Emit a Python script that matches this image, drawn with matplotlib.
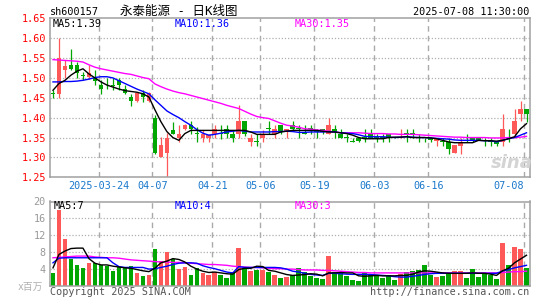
import matplotlib
matplotlib.use("Agg")
import matplotlib.pyplot as plt
import numpy as np

# ---- data (80 trading days, 2025-03-12 .. 2025-07-08) ----
opens = [1.46, 1.46, 1.52, 1.532, 1.532, 1.505, 1.502, 1.50, 1.481, 1.481,
         1.48, 1.494, 1.471, 1.452, 1.442, 1.462, 1.442, 1.40, 1.30, 1.31,
         1.37, 1.35, 1.371, 1.381, 1.36, 1.35, 1.35, 1.36, 1.36, 1.371,
         1.36, 1.36, 1.392, 1.339, 1.339, 1.35, 1.371, 1.36, 1.381, 1.364,
         1.381, 1.371, 1.364, 1.371, 1.365, 1.371, 1.36, 1.371, 1.36, 1.35,
         1.339, 1.35, 1.35, 1.36, 1.35, 1.35, 1.36, 1.35, 1.356, 1.36,
         1.36, 1.35, 1.35, 1.35, 1.341, 1.339, 1.339, 1.311, 1.33, 1.35,
         1.35, 1.35, 1.35, 1.339, 1.339, 1.339, 1.35, 1.36, 1.41, 1.421]
highs = [1.47, 1.60, 1.545, 1.572, 1.54, 1.515, 1.532, 1.521, 1.494, 1.501,
         1.50, 1.50, 1.481, 1.46, 1.465, 1.469, 1.465, 1.406, 1.351, 1.361,
         1.39, 1.381, 1.385, 1.392, 1.377, 1.37, 1.36, 1.381, 1.381, 1.381,
         1.37, 1.431, 1.392, 1.36, 1.36, 1.37, 1.392, 1.381, 1.381, 1.371,
         1.392, 1.381, 1.381, 1.381, 1.371, 1.371, 1.40, 1.381, 1.371, 1.36,
         1.35, 1.35, 1.371, 1.371, 1.36, 1.36, 1.36, 1.352, 1.371, 1.371,
         1.371, 1.36, 1.35, 1.35, 1.347, 1.35, 1.35, 1.332, 1.35, 1.36,
         1.35, 1.35, 1.35, 1.35, 1.339, 1.41, 1.371, 1.421, 1.442, 1.421]
lows = [1.45, 1.45, 1.50, 1.519, 1.50, 1.495, 1.498, 1.481, 1.46, 1.471,
        1.47, 1.47, 1.46, 1.429, 1.44, 1.44, 1.44, 1.308, 1.30, 1.25,
        1.36, 1.339, 1.37, 1.36, 1.339, 1.339, 1.34, 1.35, 1.347, 1.35,
        1.339, 1.35, 1.355, 1.328, 1.328, 1.339, 1.36, 1.35, 1.36, 1.35,
        1.37, 1.35, 1.36, 1.36, 1.35, 1.36, 1.36, 1.35, 1.35, 1.339,
        1.339, 1.339, 1.339, 1.35, 1.339, 1.339, 1.339, 1.348, 1.35, 1.339,
        1.35, 1.339, 1.339, 1.339, 1.328, 1.328, 1.308, 1.31, 1.308, 1.339,
        1.339, 1.343, 1.328, 1.328, 1.33, 1.328, 1.339, 1.35, 1.392, 1.389]
closes = [1.46, 1.55, 1.53, 1.522, 1.512, 1.505, 1.512, 1.492, 1.472, 1.481,
          1.48, 1.481, 1.462, 1.442, 1.462, 1.452, 1.462, 1.31, 1.33, 1.35,
          1.36, 1.36, 1.381, 1.371, 1.36, 1.36, 1.356, 1.371, 1.36, 1.36,
          1.35, 1.392, 1.36, 1.35, 1.339, 1.36, 1.371, 1.371, 1.364, 1.371,
          1.371, 1.371, 1.36, 1.371, 1.365, 1.364, 1.381, 1.364, 1.35, 1.35,
          1.339, 1.341, 1.35, 1.35, 1.35, 1.35, 1.35, 1.35, 1.36, 1.36,
          1.36, 1.35, 1.35, 1.345, 1.347, 1.339, 1.32, 1.33, 1.339, 1.35,
          1.343, 1.343, 1.35, 1.339, 1.335, 1.371, 1.35, 1.392, 1.421, 1.41]

ma5 = [1.469, 1.486, 1.494, 1.507, 1.517, 1.523, 1.51, 1.50, 1.49, 1.482,
       1.477, 1.472, 1.468, 1.466, 1.464, 1.46, 1.452, 1.42, 1.39, 1.365,
       1.35, 1.343, 1.36, 1.368, 1.368, 1.368, 1.368, 1.368, 1.368, 1.368,
       1.368, 1.368, 1.368, 1.364, 1.358, 1.358, 1.358, 1.358, 1.364, 1.366,
       1.368, 1.368, 1.368, 1.368, 1.368, 1.366, 1.364, 1.364, 1.362, 1.36,
       1.356, 1.35, 1.347, 1.347, 1.347, 1.347, 1.35, 1.351, 1.351, 1.352,
       1.35, 1.35, 1.35, 1.349, 1.347, 1.343, 1.339, 1.337, 1.337, 1.337,
       1.337, 1.343, 1.342, 1.342, 1.341, 1.343, 1.347, 1.352, 1.372, 1.385]
ma10 = [1.49, 1.49, 1.491, 1.491, 1.492, 1.494, 1.497, 1.501, 1.503, 1.503,
        1.50, 1.493, 1.486, 1.479, 1.472, 1.466, 1.46, 1.445, 1.431, 1.417,
        1.408, 1.40, 1.39, 1.381, 1.37, 1.361, 1.356, 1.358, 1.361, 1.364,
        1.366, 1.368, 1.366, 1.364, 1.364, 1.364, 1.364, 1.365, 1.365, 1.366,
        1.365, 1.363, 1.363, 1.364, 1.364, 1.364, 1.365, 1.364, 1.362, 1.361,
        1.36, 1.357, 1.353, 1.352, 1.352, 1.352, 1.351, 1.35, 1.351, 1.352,
        1.351, 1.35, 1.35, 1.349, 1.348, 1.347, 1.346, 1.344, 1.343, 1.343,
        1.343, 1.343, 1.342, 1.342, 1.339, 1.343, 1.347, 1.35, 1.356, 1.362]
ma30 = [1.546, 1.545, 1.544, 1.543, 1.542, 1.54, 1.533, 1.527, 1.523, 1.52,
        1.517, 1.514, 1.511, 1.509, 1.505, 1.501, 1.498, 1.485, 1.478, 1.472,
        1.467, 1.463, 1.46, 1.456, 1.452, 1.448, 1.444, 1.44, 1.436, 1.431,
        1.427, 1.423, 1.416, 1.409, 1.403, 1.40, 1.398, 1.392, 1.386, 1.381,
        1.379, 1.376, 1.372, 1.371, 1.369, 1.368, 1.366, 1.364, 1.362, 1.362,
        1.362, 1.362, 1.361, 1.36, 1.36, 1.36, 1.359, 1.359, 1.358, 1.358,
        1.358, 1.357, 1.356, 1.355, 1.354, 1.353, 1.352, 1.351, 1.351, 1.35,
        1.35, 1.35, 1.35, 1.349, 1.349, 1.349, 1.35, 1.35, 1.351, 1.353]

volume = [3.05, 18.0, 11.1, 6.4, 4.9, 4.2, 5.4, 5.3, 4.8, 4.6,
          3.45, 4.4, 4.1, 4.6, 3.05, 2.3, 2.5, 8.7, 5.8, 8.0,
          6.3, 4.0, 4.4, 2.5, 4.2, 3.0, 2.5, 3.3, 2.5, 1.9,
          3.1, 9.0, 4.2, 3.4, 3.7, 3.8, 3.2, 2.6, 1.9, 2.1,
          2.4, 4.2, 3.2, 2.3, 1.9, 1.5, 7.0, 3.3, 3.2, 2.3,
          1.3, 1.1, 3.2, 2.7, 2.2, 1.8, 2.6, 1.3, 2.8, 3.2,
          3.45, 3.7, 4.9, 2.5, 2.0, 2.3, 3.0, 3.45, 3.45, 1.9,
          4.0, 2.1, 2.9, 2.4, 1.5, 10.2, 4.9, 9.2, 8.8, 4.2]
vma5 = [4.2, 7.4, 8.2, 8.8, 8.9, 8.9, 6.4, 5.3, 4.9, 4.9,
        4.6, 4.4, 4.2, 4.1, 3.8, 3.5, 3.3, 4.1, 5.4, 5.8,
        6.4, 6.2, 5.6, 4.6, 3.9, 3.4, 3.1, 3.2, 3.0, 2.8,
        2.7, 3.8, 4.1, 4.1, 4.6, 4.5, 3.6, 3.4, 3.0, 2.6,
        2.4, 2.5, 2.6, 2.8, 2.7, 2.3, 3.0, 3.0, 3.1, 3.0,
        3.0, 2.3, 2.2, 2.3, 2.4, 2.3, 2.3, 2.3, 2.4, 2.4,
        2.7, 3.2, 3.5, 3.4, 3.2, 3.0, 2.9, 2.9, 2.9, 2.9,
        3.0, 2.9, 2.9, 2.7, 2.4, 3.5, 4.1, 5.4, 6.3, 7.2]
vma10 = [5.4, 6.5, 6.6, 6.6, 6.6, 6.6, 6.6, 6.6, 6.6, 6.6,
         5.4, 4.5, 4.3, 4.3, 4.3, 4.3, 3.9, 4.0, 4.3, 4.6,
         5.0, 5.3, 5.4, 5.4, 5.3, 4.7, 4.3, 4.0, 3.6, 3.2,
         3.0, 4.5, 4.3, 4.3, 4.3, 4.3, 4.3, 4.3, 4.2, 3.9,
         3.4, 3.2, 2.9, 2.65, 2.5, 2.4, 2.9, 2.9, 2.8, 2.7,
         2.65, 2.65, 2.65, 2.6, 2.5, 2.4, 2.3, 2.1, 2.0, 2.0,
         2.2, 2.4, 2.65, 2.8, 2.9, 2.9, 2.9, 2.9, 2.9, 2.9,
         2.9, 2.9, 2.9, 2.9, 2.9, 3.45, 3.8, 4.2, 4.5, 4.8]
vma30 = [6.6, 6.7, 6.8, 6.9, 7.0, 7.0, 7.0, 6.8, 6.7, 6.6,
         6.6, 6.5, 6.3, 6.1, 6.0, 5.9, 5.8, 5.7, 5.6, 5.6,
         5.5, 5.5, 5.4, 5.3, 5.2, 5.1, 5.0, 5.0, 4.9, 4.8,
         4.6, 4.5, 4.4, 4.3, 4.3, 4.2, 4.1, 4.0, 4.0, 3.9,
         3.9, 3.8, 3.7, 3.7, 3.7, 3.6, 3.6, 3.5, 3.4, 3.3,
         3.2, 3.1, 3.1, 3.0, 3.0, 3.0, 3.0, 3.0, 3.0, 3.0,
         3.0, 3.0, 3.0, 3.0, 3.0, 3.0, 3.0, 3.0, 3.0, 3.0,
         3.0, 3.0, 3.0, 3.0, 3.0, 3.1, 3.2, 3.3, 3.3, 3.4]

date_idx = [8, 17, 27, 35, 44, 54, 63, 79]
date_labels = ["2025-03-24", "04-07", "04-21", "05-06", "05-19", "06-03", "06-16", "07-08"]
price_ticks = [1.25, 1.30, 1.35, 1.40, 1.45, 1.50, 1.55, 1.60, 1.65]
vol_ticks = [4, 8, 12, 16, 20]

RED = "#ff5858"
GREEN = "#00a600"
MONO = ["DejaVu Sans Mono", "Noto Sans CJK SC"]
plt.rcParams["font.family"] = MONO

W, H = 545, 300
fig = plt.figure(figsize=(W / 100, H / 100), dpi=100)


def px_axes(l, t, r, b):
    return fig.add_axes([l / W, 1 - b / H, (r - l) / W, (b - t) / H])


def px_text(x, y, s, **kw):
    fig.text(x / W, 1 - y / H, s, va="center", **kw)


x = np.arange(len(closes))
o = np.array(opens)
c = np.array(closes)
up = c > o
cols = [RED if u else GREEN for u in up]
grid_x = [i - 0.4 for i in date_idx]

ax = px_axes(50, 18.3, 529.5, 177.3)
ax2 = px_axes(50, 201.5, 529.5, 285.5)

for a in (ax, ax2):
    a.set_xlim(-0.5, 79.5)
    for s in a.spines.values():
        s.set_color("#a0a0a0")
        s.set_linewidth(1.1)
    for gx in grid_x:
        a.axvline(gx, color="#aaaaaa", lw=1.0, ls=(0, (4, 3)), zorder=0)
    a.tick_params(length=0)

# price panel
ax.set_ylim(1.25, 1.65)
for p in price_ticks[1:-1]:
    ax.axhline(p, color="#b0b0b0", lw=0.9, ls=(0, (1, 1.5)), zorder=0)
ax.vlines(x, lows, highs, colors=cols, lw=0.9, zorder=2)
body = np.maximum(np.abs(c - o), 0.002)
ax.bar(x, body, bottom=np.minimum(o, c), width=0.78, color=cols, zorder=3)
ax.plot(x, ma30, color="#ff00ff", lw=1.0, zorder=4)
ax.plot(x, ma10, color="#0000ff", lw=1.0, zorder=4)
ax.plot(x, ma5, color="#000000", lw=1.0, zorder=4)
ax.set_yticks(price_ticks)
ax.set_yticklabels(["%.2f" % p for p in price_ticks], color="#ff0000", fontsize=7.3)
ax.set_xticks(grid_x)
ax.set_xticklabels(date_labels, color="#1a78cc", fontsize=7.3)
ax.get_xticklabels()[-1].set_horizontalalignment("right")
ax.tick_params(axis="y", pad=3)
ax.tick_params(axis="x", pad=3)

# volume panel
ax2.set_ylim(0, 20)
for v in vol_ticks[:-1]:
    ax2.axhline(v, color="#b0b0b0", lw=0.9, ls=(0, (1, 1.5)), zorder=0)
ax2.bar(x, volume, width=0.78, color=cols, zorder=2)
ax2.plot(x, vma30, color="#ff00ff", lw=1.0, zorder=4)
ax2.plot(x, vma10, color="#0000ff", lw=1.0, zorder=4)
ax2.plot(x, vma5, color="#000000", lw=1.0, zorder=4)
ax2.set_yticks(vol_ticks)
ax2.set_yticklabels([str(v) for v in vol_ticks], color="#999999", fontsize=7.3)
ax2.set_xticks([])
ax2.tick_params(axis="y", pad=3)

# texts
px_text(50, 12, "sh600157", fontsize=7.3, color="#000000")
px_text(120, 12, "永泰能源 - 日K线图", fontsize=9, color="#000000")
px_text(529, 12, "2025-07-08 11:30:00", fontsize=7.3, color="#000000", ha="right")
px_text(53, 24, "MA5:1.39", fontsize=7.3, color="#000000")
px_text(175, 24, "MA10:1.36", fontsize=7.3, color="#0000ff")
px_text(295, 24, "MA30:1.35", fontsize=7.3, color="#ff00ff")
px_text(54, 206, "MA5:7", fontsize=7.3, color="#000000")
px_text(175, 206, "MA10:4", fontsize=7.3, color="#0000ff")
px_text(295, 206, "MA30:3", fontsize=7.3, color="#ff00ff")
px_text(18, 287, "x百万", fontsize=7, color="#b0b0b0")
px_text(50, 292, "Copyright 2025 SINA.COM", fontsize=7.3, color="#555555")
px_text(529, 292, "http://finance.sina.com.cn", fontsize=7.3, color="#555555", ha="right")
px_text(512, 163, "sina", fontsize=13, color="#d4d4d4", ha="center",
        fontweight="bold", style="italic", family="DejaVu Sans")

fig.savefig("out.png", dpi=100)
